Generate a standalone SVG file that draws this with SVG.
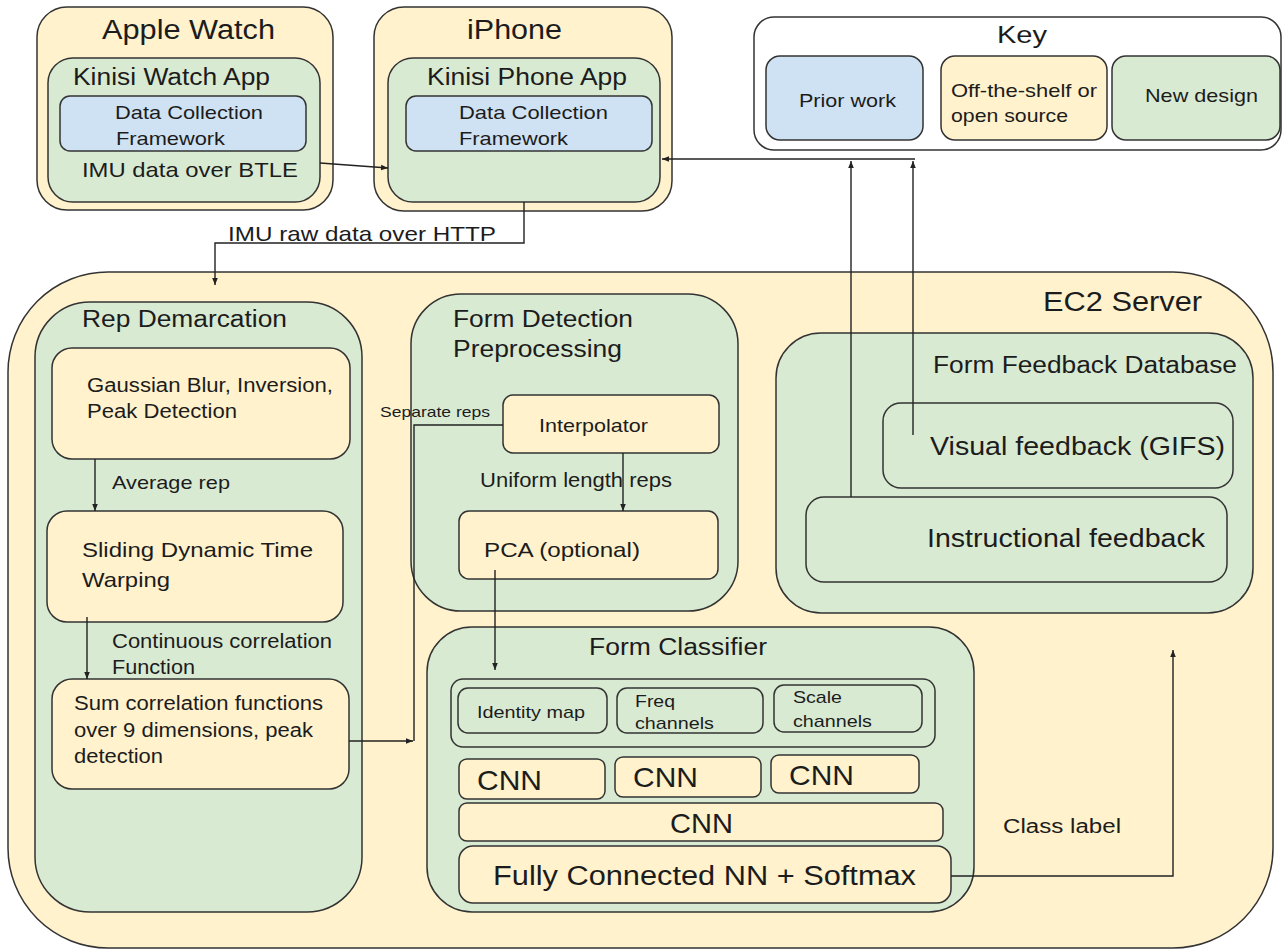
<svg xmlns="http://www.w3.org/2000/svg" width="1283" height="951" viewBox="0 0 1283 951">
<defs>
<style>
.b{stroke:#333;stroke-width:1.5}
.y{fill:#fff2cc}
.g{fill:#d9ead3}
.u{fill:#cfe2f3}
.w{fill:#ffffff}
text{font-family:"Liberation Sans",Arial,Helvetica,sans-serif;fill:#1c1c1c}
.c{fill:none;stroke:#222;stroke-width:1.4}
</style>
<marker id="ah" viewBox="0 0 10 10" refX="10" refY="5" markerWidth="7" markerHeight="7" markerUnits="userSpaceOnUse" orient="auto">
<path d="M0,1 L10,5 L0,9 z" fill="#222"/>
</marker>
</defs>
<rect width="1283" height="951" fill="#ffffff"/>

<g id="apple-watch">
<rect class="b y" x="37" y="7" width="296" height="203" rx="30"/>
<text x="102" y="39" font-size="27" textLength="173" lengthAdjust="spacingAndGlyphs">Apple Watch</text>
</g>
<g id="kinisi-watch-app">
<rect class="b g" x="48" y="58" width="272" height="144" rx="25"/>
<text x="73" y="85" font-size="23" textLength="197" lengthAdjust="spacingAndGlyphs">Kinisi Watch App</text>
<text x="82" y="177" font-size="21" textLength="216" lengthAdjust="spacingAndGlyphs">IMU data over BTLE</text>
</g>
<g id="watch-dcf">
<rect class="b u" x="60" y="96" width="246" height="55" rx="10"/>
<text x="115" y="119" font-size="19" textLength="148" lengthAdjust="spacingAndGlyphs">Data Collection</text>
<text x="116" y="145" font-size="19" textLength="109" lengthAdjust="spacingAndGlyphs">Framework</text>
</g>

<g id="iphone">
<rect class="b y" x="374" y="7" width="298" height="204" rx="30"/>
<text x="467" y="39" font-size="27" textLength="95" lengthAdjust="spacingAndGlyphs">iPhone</text>
</g>
<g id="kinisi-phone-app">
<rect class="b g" x="388" y="58" width="272" height="144" rx="25"/>
<text x="427" y="85" font-size="23" textLength="200" lengthAdjust="spacingAndGlyphs">Kinisi Phone App</text>
</g>
<g id="phone-dcf">
<rect class="b u" x="406" y="96" width="246" height="55" rx="10"/>
<text x="459" y="119" font-size="19" textLength="149" lengthAdjust="spacingAndGlyphs">Data Collection</text>
<text x="459" y="145" font-size="19" textLength="109" lengthAdjust="spacingAndGlyphs">Framework</text>
</g>

<g id="key">
<rect class="b w" x="754" y="17" width="527" height="133" rx="20"/>
<text x="997" y="43" font-size="23" textLength="50" lengthAdjust="spacingAndGlyphs">Key</text>
</g>
<g id="key-prior">
<rect class="b u" x="766" y="56" width="157" height="84" rx="14"/>
<text x="799" y="107" font-size="19" textLength="97" lengthAdjust="spacingAndGlyphs">Prior work</text>
</g>
<g id="key-offshelf">
<rect class="b y" x="941" y="56" width="166" height="84" rx="14"/>
<text x="951" y="97" font-size="19" textLength="146" lengthAdjust="spacingAndGlyphs">Off-the-shelf or</text>
<text x="951" y="122" font-size="19" textLength="117" lengthAdjust="spacingAndGlyphs">open source</text>
</g>
<g id="key-new">
<rect class="b g" x="1112" y="56" width="168" height="84" rx="14"/>
<text x="1145" y="102" font-size="19" textLength="113" lengthAdjust="spacingAndGlyphs">New design</text>
</g>

<g id="ec2-server">
<rect class="b y" x="8" y="272" width="1265" height="676" rx="100"/>
<text x="1043" y="311" font-size="27" textLength="159" lengthAdjust="spacingAndGlyphs">EC2 Server</text>
</g>

<g id="rep-demarcation">
<rect class="b g" x="35" y="302" width="327" height="610" rx="55"/>
<text x="82" y="327" font-size="23" textLength="205" lengthAdjust="spacingAndGlyphs">Rep Demarcation</text>
</g>
<g id="gaussian">
<rect class="b y" x="52" y="348" width="298" height="111" rx="20"/>
<text x="87" y="392" font-size="20" textLength="246" lengthAdjust="spacingAndGlyphs">Gaussian Blur, Inversion,</text>
<text x="87" y="418" font-size="20" textLength="150" lengthAdjust="spacingAndGlyphs">Peak Detection</text>
</g>
<g id="sliding-dtw">
<rect class="b y" x="47" y="511" width="296" height="111" rx="20"/>
<text x="82" y="557" font-size="21" textLength="231" lengthAdjust="spacingAndGlyphs">Sliding Dynamic Time</text>
<text x="82" y="587" font-size="21" textLength="88" lengthAdjust="spacingAndGlyphs">Warping</text>
</g>
<g id="sum-correlation">
<rect class="b y" x="52" y="679" width="297" height="110" rx="20"/>
<text x="74" y="710" font-size="20" textLength="249" lengthAdjust="spacingAndGlyphs">Sum correlation functions</text>
<text x="74" y="737" font-size="20" textLength="239" lengthAdjust="spacingAndGlyphs">over 9 dimensions, peak</text>
<text x="74" y="763" font-size="20" textLength="89" lengthAdjust="spacingAndGlyphs">detection</text>
</g>

<g id="form-detection-preprocessing">
<rect class="b g" x="411" y="294" width="327" height="317" rx="50"/>
<text x="453" y="327" font-size="23" textLength="180" lengthAdjust="spacingAndGlyphs">Form Detection</text>
<text x="453" y="357" font-size="23" textLength="169" lengthAdjust="spacingAndGlyphs">Preprocessing</text>
</g>
<g id="interpolator">
<rect class="b y" x="503" y="395" width="216" height="58" rx="10"/>
<text x="539" y="432" font-size="19" textLength="109" lengthAdjust="spacingAndGlyphs">Interpolator</text>
</g>
<g id="pca">
<rect class="b y" x="459" y="511" width="259" height="68" rx="10"/>
<text x="484" y="557" font-size="21" textLength="156" lengthAdjust="spacingAndGlyphs">PCA (optional)</text>
</g>

<g id="form-feedback-database">
<rect class="b g" x="776" y="333" width="477" height="280" rx="45"/>
<text x="933" y="373" font-size="23" textLength="304" lengthAdjust="spacingAndGlyphs">Form Feedback Database</text>
</g>
<g id="visual-feedback">
<rect class="b g" x="883" y="403" width="350" height="85" rx="18"/>
<text x="930" y="455" font-size="26" textLength="295" lengthAdjust="spacingAndGlyphs">Visual feedback (GIFS)</text>
</g>
<g id="instructional-feedback">
<rect class="b g" x="806" y="497" width="421" height="85" rx="18"/>
<text x="927" y="547" font-size="26" textLength="278" lengthAdjust="spacingAndGlyphs">Instructional feedback</text>
</g>

<g id="form-classifier">
<rect class="b g" x="427" y="627" width="547" height="285" rx="45"/>
<text x="589" y="655" font-size="23" textLength="178" lengthAdjust="spacingAndGlyphs">Form Classifier</text>
</g>
<g id="channels">
<rect class="b g" x="451" y="679" width="484" height="68" rx="12"/>
</g>
<g id="identity-map">
<rect class="b g" x="458" y="688" width="149" height="45" rx="10"/>
<text x="477" y="718" font-size="17" textLength="108" lengthAdjust="spacingAndGlyphs">Identity map</text>
</g>
<g id="freq-channels">
<rect class="b g" x="617" y="688" width="146" height="45" rx="10"/>
<text x="635" y="707" font-size="17" textLength="40" lengthAdjust="spacingAndGlyphs">Freq</text>
<text x="635" y="729" font-size="17" textLength="79" lengthAdjust="spacingAndGlyphs">channels</text>
</g>
<g id="scale-channels">
<rect class="b g" x="774" y="685" width="148" height="47" rx="10"/>
<text x="793" y="703" font-size="17" textLength="49" lengthAdjust="spacingAndGlyphs">Scale</text>
<text x="793" y="727" font-size="17" textLength="79" lengthAdjust="spacingAndGlyphs">channels</text>
</g>
<g id="cnn-1">
<rect class="b y" x="459" y="759" width="146" height="40" rx="8"/>
<text x="477" y="790" font-size="28" textLength="65" lengthAdjust="spacingAndGlyphs">CNN</text>
</g>
<g id="cnn-2">
<rect class="b y" x="615" y="757" width="146" height="40" rx="8"/>
<text x="633" y="787" font-size="28" textLength="65" lengthAdjust="spacingAndGlyphs">CNN</text>
</g>
<g id="cnn-3">
<rect class="b y" x="771" y="755" width="148" height="38" rx="8"/>
<text x="789" y="785" font-size="28" textLength="65" lengthAdjust="spacingAndGlyphs">CNN</text>
</g>
<g id="cnn-wide">
<rect class="b y" x="459" y="803" width="484" height="38" rx="8"/>
<text x="670" y="833" font-size="28" textLength="63" lengthAdjust="spacingAndGlyphs">CNN</text>
</g>
<g id="fully-connected">
<rect class="b y" x="459" y="846" width="492" height="57" rx="14"/>
<text x="493" y="885" font-size="27" textLength="423" lengthAdjust="spacingAndGlyphs">Fully Connected NN + Softmax</text>
</g>

<g id="connectors">
<path class="c" d="M320,163 L388,168" marker-end="url(#ah)"/>
<path class="c" d="M524,202 V243 H215 V285" marker-end="url(#ah)"/>
<path class="c" d="M95,459 V511" marker-end="url(#ah)"/>
<path class="c" d="M87,617 V679" marker-end="url(#ah)"/>
<path class="c" d="M349,741 H413" marker-end="url(#ah)"/>
<path class="c" d="M414,741 V425 H503"/>
<path class="c" d="M623,453 V511" marker-end="url(#ah)"/>
<path class="c" d="M495,570 V670" marker-end="url(#ah)"/>
<path class="c" d="M951,876 H1173 V650" marker-end="url(#ah)"/>
<path class="c" d="M851,497 V161" marker-end="url(#ah)"/>
<path class="c" d="M913,435 V161" marker-end="url(#ah)"/>
<path class="c" d="M915,159 H662" marker-end="url(#ah)"/>
<text x="228" y="241" font-size="21" textLength="268" lengthAdjust="spacingAndGlyphs">IMU raw data over HTTP</text>
<text x="112" y="489" font-size="19" textLength="118" lengthAdjust="spacingAndGlyphs">Average rep</text>
<text x="112" y="648" font-size="20" textLength="220" lengthAdjust="spacingAndGlyphs">Continuous correlation</text>
<text x="112" y="674" font-size="20" textLength="83" lengthAdjust="spacingAndGlyphs">Function</text>
<text x="380" y="417" font-size="15" textLength="110" lengthAdjust="spacingAndGlyphs">Separate reps</text>
<text x="480" y="487" font-size="20" textLength="192" lengthAdjust="spacingAndGlyphs">Uniform length reps</text>
<text x="1003" y="833" font-size="20" textLength="118" lengthAdjust="spacingAndGlyphs">Class label</text>
</g>
</svg>
